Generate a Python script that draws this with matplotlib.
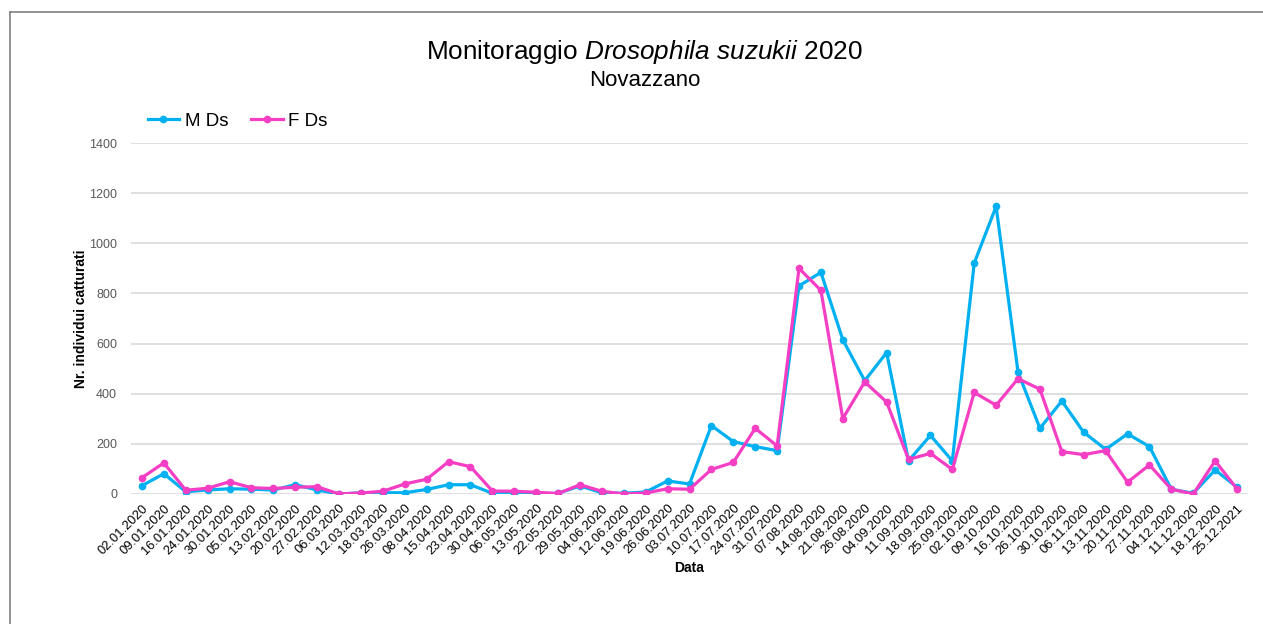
import matplotlib
matplotlib.use("Agg")
import matplotlib.pyplot as plt
from matplotlib.lines import Line2D

dates = ["02.01.2020", "09.01.2020", "16.01.2020", "24.01.2020", "30.01.2020",
         "05.02.2020", "13.02.2020", "20.02.2020", "27.02.2020", "06.03.2020",
         "12.03.2020", "18.03.2020", "26.03.2020", "08.04.2020", "15.04.2020",
         "23.04.2020", "30.04.2020", "06.05.2020", "13.05.2020", "22.05.2020",
         "29.05.2020", "04.06.2020", "12.06.2020", "19.06.2020", "26.06.2020",
         "03.07.2020", "10.07.2020", "17.07.2020", "24.07.2020", "31.07.2020",
         "07.08.2020", "14.08.2020", "21.08.2020", "26.08.2020", "04.09.2020",
         "11.09.2020", "18.09.2020", "25.09.2020", "02.10.2020", "09.10.2020",
         "16.10.2020", "26.10.2020", "30.10.2020", "06.11.2020", "13.11.2020",
         "20.11.2020", "27.11.2020", "04.12.2020", "11.12.2020", "18.12.2020",
         "25.12.2021"]

m_ds = [33, 81, 9, 16, 21, 19, 16, 37, 16, 0,
        5, 5, 5, 18, 37, 37, 3, 1, 0, 3,
        32, 5, 3, 8, 52, 40, 273, 209, 189, 173,
        830, 884, 615, 452, 564, 132, 234, 132, 921, 1147,
        486, 262, 371, 246, 178, 240, 189, 19, 3, 96,
        27]

f_ds = [65, 124, 15, 23, 49, 25, 22, 27, 29, 0,
        4, 11, 40, 59, 129, 109, 12, 11, 7, 2,
        37, 11, 0, 4, 21, 19, 98, 126, 262, 192,
        900, 812, 301, 447, 367, 138, 162, 98, 405, 354,
        460, 418, 169, 157, 173, 47, 116, 19, 0, 132,
        20]

yticks = [0, 200, 400, 600, 800, 1000, 1200, 1400]

plt.rcParams['font.family'] = ['Liberation Sans', 'DejaVu Sans']
plt.rcParams['mathtext.fontset'] = 'custom'
plt.rcParams['mathtext.rm'] = 'Liberation Sans'
plt.rcParams['mathtext.it'] = 'Liberation Sans:italic'
plt.rcParams['mathtext.bf'] = 'Liberation Sans:bold'

fig = plt.figure(figsize=(12.63, 6.24), dpi=100)
ax = fig.add_axes([131/1263, 1 - 494/624, (1248 - 131)/1263, (494 - 143)/624])

x = list(range(len(dates)))
ax.plot(x, m_ds, color='#00B0F0', lw=2.3, marker='o', ms=4.5, label='M Ds', zorder=3)
ax.plot(x, f_ds, color='#F43FC4', lw=2.3, marker='o', ms=4.5, label='F Ds', zorder=4)

ax.set_xlim(-0.5, len(dates) - 0.5)
ax.set_ylim(0, 1400)
ax.set_yticks(yticks)
ax.set_yticklabels([str(v) for v in yticks], color='#595959', fontsize=9)
ax.set_xticks(x)
ax.set_xticklabels(dates, rotation=45, ha='right', va='top', rotation_mode='anchor',
                   fontsize=9.3, color='black')
ax.tick_params(axis='both', length=0)
ax.tick_params(axis='x', pad=6)
ax.tick_params(axis='y', pad=10)
ax.grid(axis='y', color='#d9d9d9', lw=1.2, zorder=0)
ax.set_axisbelow(True)
for s in ax.spines.values():
    s.set_visible(False)

ax.set_xlabel('Data', fontsize=10, fontweight='bold', labelpad=3)
ax.set_ylabel('Nr. individui catturati', fontsize=10, fontweight='bold', labelpad=1)

fig.text(0.5105, 1 - 52/624, 'Monitoraggio $\\it{Drosophila\\ suzukii}$ 2020',
         ha='center', va='center', fontsize=18.8)
fig.text(0.5105, 1 - 80/624, 'Novazzano', ha='center', va='center', fontsize=16)

leg = fig.legend(loc='center left', bbox_to_anchor=(140/1263, 1 - 121/624), ncol=2,
                 frameon=False, fontsize=13.5, handlelength=1.7, columnspacing=1.2,
                 handletextpad=0.3, borderaxespad=0)

# chart frame
fig.add_artist(Line2D([10/1263, 1], [1 - 12/624, 1 - 12/624], color='#808080', lw=1.2))
fig.add_artist(Line2D([10/1263, 10/1263], [0, 1 - 12/624], color='#808080', lw=1.2))

fig.savefig('out.png', dpi=100)
